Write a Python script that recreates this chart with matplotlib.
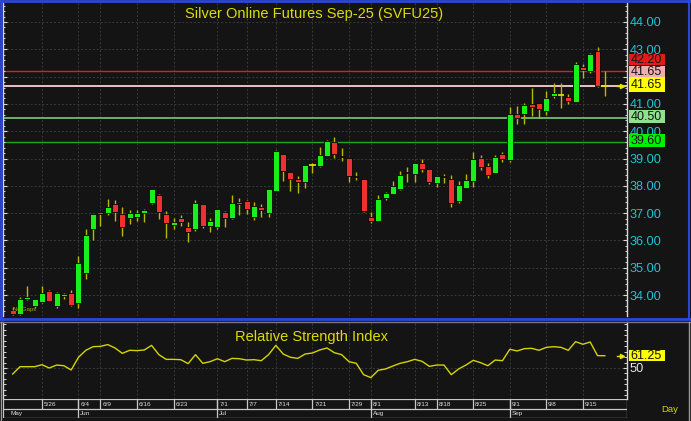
import matplotlib
matplotlib.use('Agg')
import matplotlib.pyplot as plt
from matplotlib.transforms import blended_transform_factory
from matplotlib.patches import Rectangle
import numpy as np

plt.rcParams['font.family'] = ['Liberation Sans', 'DejaVu Sans']

# ---------------- data ----------------
opens = [33.45, 33.32, 33.84, 33.59, 33.74, 34.15, 33.59, 33.97, 34.08, 33.69,
         34.79, 36.40, 37.03, 36.99, 37.33, 36.96, 36.81, 36.84, 37.00, 37.36,
         37.66, 36.96, 36.58, 36.83, 36.49, 36.40, 37.33, 36.54, 36.50, 37.05,
         36.81, 37.39, 37.45, 36.85, 37.21, 36.99, 37.82, 39.16, 38.50, 38.26,
         38.14, 38.78, 38.74, 39.10, 39.59, 39.10, 39.03, 38.36, 38.24, 36.87,
         36.72, 37.56, 37.70, 37.87, 38.51, 38.43, 38.82, 38.60, 38.09, 38.36,
         38.26, 37.44, 37.91, 38.19, 39.03, 38.73, 38.48, 39.17, 38.95, 40.63,
         40.63, 41.00, 41.02, 40.74, 41.29, 41.33, 41.26, 41.08, 42.36, 42.22,
         42.94, 41.65]
highs = [33.55, 33.93, 34.32, 33.87, 34.32, 34.17, 34.10, 34.06, 34.20, 35.43,
         36.42, 36.98, 37.05, 37.51, 37.48, 37.24, 37.11, 37.11, 37.14, 37.90,
         37.70, 37.06, 36.81, 36.93, 36.69, 37.48, 37.35, 36.83, 37.16, 37.06,
         37.66, 37.54, 37.47, 37.42, 37.33, 37.87, 39.31, 39.16, 38.50, 38.36,
         38.76, 38.82, 39.41, 39.68, 39.78, 39.37, 39.03, 38.52, 38.24, 37.05,
         37.66, 37.78, 38.17, 38.55, 38.70, 38.82, 38.97, 38.60, 38.36, 38.43,
         38.40, 38.17, 38.43, 39.25, 39.13, 38.85, 39.13, 39.25, 40.87, 40.92,
         41.02, 41.57, 41.02, 41.47, 41.75, 41.75, 41.36, 42.52, 42.45, 42.88,
         43.07, 42.22]
lows = [33.25, 33.28, 33.81, 33.51, 33.72, 33.77, 33.53, 33.84, 33.60, 33.53,
        34.59, 36.01, 36.53, 36.94, 36.70, 36.16, 36.60, 36.70, 36.66, 37.33,
        36.77, 36.10, 36.40, 36.54, 35.93, 36.35, 36.47, 36.29, 36.40, 36.50,
        36.80, 36.93, 36.96, 36.75, 36.85, 36.85, 37.82, 38.19, 37.81, 37.75,
        37.91, 38.48, 38.70, 39.09, 39.01, 38.92, 38.15, 38.21, 37.05, 36.62,
        36.72, 37.48, 37.70, 37.85, 38.15, 38.15, 38.52, 38.07, 37.94, 38.09,
        37.21, 37.36, 37.91, 37.97, 38.58, 38.27, 38.46, 38.88, 38.88, 40.26,
        40.26, 40.56, 40.47, 40.59, 41.20, 40.84, 40.98, 41.08, 41.94, 42.14,
        41.61, 41.30]
closes = [33.30, 33.85, 33.92, 33.87, 34.08, 33.79, 34.08, 34.04, 33.63, 35.19,
          36.19, 36.96, 36.98, 37.24, 37.04, 36.50, 37.00, 37.00, 37.13, 37.87,
          37.04, 36.65, 36.66, 36.67, 36.32, 37.36, 36.53, 36.70, 37.15, 36.81,
          37.36, 37.35, 37.14, 37.26, 37.11, 37.87, 39.27, 38.55, 38.24, 38.14,
          38.76, 38.78, 39.13, 39.63, 39.16, 39.05, 38.37, 38.33, 37.09, 36.72,
          37.53, 37.74, 38.00, 38.40, 38.48, 38.82, 38.60, 38.14, 38.36, 38.31,
          37.36, 38.03, 38.21, 38.97, 38.68, 38.40, 39.07, 38.97, 40.63, 40.47,
          40.96, 40.87, 40.80, 41.23, 41.41, 41.33, 41.11, 42.45, 42.24, 42.83,
          41.65, 41.65]
rsi = [44.5, 51.2, 51.2, 51.2, 53.0, 50.0, 52.7, 52.1, 48.2, 59.8,
       66.2, 69.5, 69.8, 71.4, 68.3, 63.4, 66.2, 65.9, 66.5, 70.7,
       62.2, 57.9, 57.9, 57.6, 54.0, 62.2, 54.3, 55.8, 58.5, 55.8,
       58.8, 58.5, 57.3, 57.6, 56.7, 62.2, 70.7, 62.8, 59.8, 58.8,
       62.8, 63.7, 66.5, 68.3, 64.0, 62.2, 55.8, 54.3, 43.9, 41.2,
       47.9, 49.1, 51.8, 54.3, 55.8, 57.9, 56.1, 51.5, 52.7, 52.7,
       43.9, 49.1, 52.7, 57.0, 54.9, 52.1, 57.3, 56.7, 67.1, 65.6,
       67.7, 68.0, 66.2, 68.9, 69.5, 68.9, 66.2, 74.1, 71.7, 73.8,
       61.3, 61.25]

price_ticks = [34, 35, 36, 37, 38, 39, 40, 41, 42, 43, 44]
level_values = [42.20, 41.65, 40.50, 39.60]
level_colors = ['#e01c1c', '#e8c4c4', '#6fae6f', '#1fa81f']
last_price = 41.65
last_rsi = 61.25

date_labels = ["5/26", "6/4", "6/9", "6/16", "6/23", "7/1", "7/7", "7/14", "7/21",
               "7/29", "8/1", "8/13", "8/18", "8/25", "9/1", "9/8", "9/15"]
date_idx = [4, 9, 12, 17, 22, 28, 32, 36, 41, 46, 49, 55, 58, 63, 68, 73, 78]
month_labels = ["May", "Jun", "Jul", "Aug", "Sep"]
month_idx = [None, 9, 28, 49, 68]

title = "Silver Online Futures Sep-25 (SVFU25)"
rsi_title = "Relative Strength Index"

# ---------------- layout (pixels) ----------------
W, H = 691, 421
BG = '#141414'
X0, X1 = 3, 627
x_step = 7.31
x_first = 12.7
xlim = ((X0 - x_first) / x_step, (X1 - x_first) / x_step)

def fig_rect(xl, yt, xr, yb):
    return [xl / W, 1 - yb / H, (xr - xl) / W, (yb - yt) / H]

fig = plt.figure(figsize=(W / 100, H / 100), dpi=100, facecolor=BG)

ax = fig.add_axes(fig_rect(X0, 3, X1, 316), facecolor=BG)
ax_r = fig.add_axes(fig_rect(X0, 322, X1, 399), facecolor=BG)
ax_d = fig.add_axes(fig_rect(X0, 399, X1, 418), facecolor=BG)

ppu = 27.3
ax.set_ylim(44 - (316 - 22) / ppu, 44 + (22 - 3) / ppu)
ax.set_xlim(*xlim)

idx = np.arange(len(opens))
o = np.array(opens); c = np.array(closes); h = np.array(highs); l = np.array(lows)

grid_kw = dict(color='#3a3a3a', lw=0.7, ls=(0, (2, 2)), zorder=0)
for p in price_ticks:
    ax.axhline(p, **grid_kw)
for i in date_idx:
    ax.axvline(i, **grid_kw)
    ax_r.axvline(i, **grid_kw)

for v, col in zip(level_values, level_colors):
    lw = 1.4 if col in ('#e8c4c4', '#6fae6f') else 1.0
    ax.axhline(v, color=col, lw=lw, zorder=1)

# candles
wick_col = '#b8b800'
ax.vlines(idx, l, h, color=wick_col, lw=1.0, zorder=2)
up = c > o
down = c < o
doji = c == o
bw = 0.82
ax.bar(idx[up], (c - o)[up], bottom=o[up], width=bw, color='#19f019',
       edgecolor='#050505', linewidth=0.6, zorder=3)
hd = np.maximum((o - c)[down], 0.03)
ax.bar(idx[down], hd, bottom=c[down], width=bw, color='#f03030',
       edgecolor='#050505', linewidth=0.6, zorder=3)
ax.hlines(c[doji], idx[doji] - 0.45, idx[doji] + 0.45, color='#e6e600', lw=1.2, zorder=3)

ax.plot([82.6, 83.3], [last_price, last_price], color='#e6e600', lw=1.0, zorder=3, clip_on=False)
ax.plot([83.3], [last_price], marker='>', ms=3, color='#e6e600', zorder=3, clip_on=False)

for a in (ax, ax_r):
    for s in a.spines.values():
        s.set_color('#d8d8d8')
        s.set_linewidth(1.0)
    a.spines['top'].set_visible(False)
    a.spines['bottom'].set_visible(False)
    a.set_xticks([])

ax.yaxis.set_ticks_position('both')
ax.set_yticks(price_ticks)
ax.set_yticks(np.arange(33.4, 44.61, 0.2), minor=True)
ax.tick_params(axis='y', which='major', direction='in', length=3.2, width=0.8,
               color='#d8d8d8', labelleft=False, labelright=True,
               labelcolor='#1ec6d2', labelsize=9.2, pad=2)
ax.tick_params(axis='y', which='minor', direction='in', length=1.6, width=0.7,
               color='#d8d8d8')
ax.set_yticklabels([f"{p:.2f}" for p in price_ticks])

# level labels on right axis (stacked boxes)
tr = blended_transform_factory(ax.transAxes, ax.transData)
bx0 = (629 - X0) / (X1 - X0)
bxw = (665 - 629) / (X1 - X0)
def py(ypix):
    return 44 - (ypix - 22) / ppu
boxes = [(54, 65, '#e21a1a', '42.20'),
         (66, 77, '#f2aeae', '41.65'),
         (77, 92, '#ffff00', f"{last_price:.2f}"),
         (110, 123, '#8fe08f', '40.50'),
         (134, 147, '#00f000', '39.60')]
for ytop, ybot, bgc, t in boxes:
    b = py(ybot); tp = py(ytop)
    ax.add_patch(Rectangle((bx0, b), bxw, tp - b, transform=tr, fc=bgc, ec='none',
                           zorder=5, clip_on=False))
    ax.text(bx0 + 0.003, (b + tp) / 2, t, transform=tr, ha='left', va='center',
            fontsize=9.0, color='#141414', zorder=6, clip_on=False)

ax.text(0.498, 0.966, title, transform=ax.transAxes, ha='center', va='center',
        fontsize=10.5, color='#dcdc00', family=['Liberation Sans Narrow', 'Liberation Sans'])

ax.text(0.016, 0.012, "No Gaps", transform=ax.transAxes, ha='left', va='bottom',
        fontsize=4.2, color='#a8a800')

# ---------------- RSI ----------------
rpp = 1.093
ax_r.set_ylim(50 - (399 - 368) / rpp, 50 + (368 - 322) / rpp)
ax_r.set_xlim(*xlim)
ax_r.axhline(50, **grid_kw)
ax_r.plot(idx, rsi, color='#d4d400', lw=1.0, zorder=3)
ax_r.plot([82.6, 83.3], [last_rsi, last_rsi], color='#e6e600', lw=1.0, clip_on=False)
ax_r.plot([83.3], [last_rsi], marker='>', ms=3, color='#e6e600', clip_on=False)
ax_r.yaxis.set_ticks_position('both')
ax_r.set_yticks([50])
ax_r.set_yticks(np.arange(25, 95, 5), minor=True)
ax_r.tick_params(axis='y', which='major', direction='in', length=3.2, width=0.8,
                 color='#d8d8d8', labelleft=False, labelright=True,
                 labelcolor='#e8e8e8', labelsize=9.2, pad=2)
ax_r.tick_params(axis='y', which='minor', direction='in', length=2.4, width=0.7,
                 color='#d8d8d8')
ax_r.set_yticklabels(['50'])
trr = blended_transform_factory(ax_r.transAxes, ax_r.transData)
def ry(ypix):
    return 50 + (368 - ypix) / rpp
rb, rt = ry(361.3), ry(350.3)
ax_r.add_patch(Rectangle((bx0, rb), bxw, rt - rb, transform=trr, fc='#ffff00', ec='none',
                         zorder=5, clip_on=False))
ax_r.text(bx0 + 0.003, (rb + rt) / 2, f"{last_rsi:.2f}", transform=trr, ha='left',
          va='center', fontsize=9.0, color='#141414', zorder=6, clip_on=False)
ax_r.text(0.495, 0.80, rsi_title, transform=ax_r.transAxes, ha='center', va='center',
          fontsize=10.5, color='#dcdc00', family=['Liberation Sans Narrow', 'Liberation Sans'])

# ---------------- date axis ----------------
ax_d.set_xlim(*xlim)
ax_d.set_ylim(0, 2)
ax_d.axis('off')
lc = '#c8c8c8'
for yv in (0, 1, 2):
    ax_d.axhline(yv, color=lc, lw=0.9)
ax_d.axvline(xlim[0], color=lc, lw=0.9)
ax_d.axvline(xlim[1], color=lc, lw=0.9)
for i, t in zip(date_idx, date_labels):
    ax_d.vlines(i, 1, 2, color=lc, lw=0.9)
    ax_d.text(i + 0.25, 1.45, t, ha='left', va='center', fontsize=4.6, color='#e0e0e0')
for i, t in zip(month_idx, month_labels):
    if i is None:
        xpos = xlim[0] + 1.0
    else:
        ax_d.vlines(i, 0, 2, color=lc, lw=0.9)
        xpos = i + 0.25
    ax_d.text(xpos, 0.45, t, ha='left', va='center', fontsize=4.6, color='#e0e0e0')

fig.text(670 / W, 1 - 410 / H, "Day", ha='center', va='center', fontsize=6.8, color='#d4d400')

# ---------------- window frame ----------------
ov = fig.add_axes([0, 0, 1, 1], facecolor='none', zorder=10)
ov.set_xlim(0, W); ov.set_ylim(H, 0); ov.axis('off')
blue = '#2a48d8'
ov.plot([0, W], [1, 1], color=blue, lw=2.0)
ov.plot([1, 1], [0, 318.5], color=blue, lw=2.0)
ov.plot([0, W], [318.5, 318.5], color=blue, lw=2.0)
ov.plot([W - 2, W - 2], [0, 318.5], color=blue, lw=1.5)
ov.plot([0, W], [321.5, 321.5], color='#7a7a7a', lw=1.0)
ov.plot([W - 1.5, W - 1.5], [321.5, H], color='#9a9a9a', lw=1.0)
ov.plot([0.5, 0.5], [321.5, H], color='#9a9a9a', lw=1.0)

fig.savefig('out.png', dpi=100, facecolor=BG)
